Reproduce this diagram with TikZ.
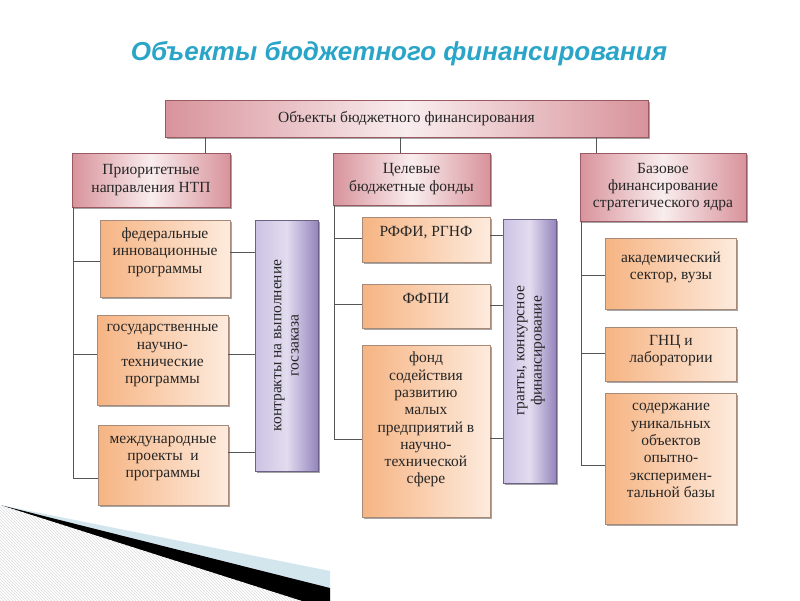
\documentclass[tikz,border=0pt]{standalone}
\usepackage{fontspec}
\setmainfont{Liberation Serif}
\newfontfamily\titlefont{Liberation Sans}
\usetikzlibrary{shadows,patterns,calc}
\definecolor{titlecol}{HTML}{2AA5C8}
\definecolor{pinkedge}{HTML}{D8939B}
\definecolor{pinkmid}{HTML}{F9EDEE}
\definecolor{pinkdraw}{HTML}{9A5A62}
\definecolor{orgdark}{HTML}{F6B483}
\definecolor{orglight}{HTML}{FDEBDD}
\definecolor{orgdraw}{HTML}{A98A78}
\definecolor{purpleft}{HTML}{CBC2E3}
\definecolor{purpmid}{HTML}{E2DCEF}
\definecolor{purpright}{HTML}{9485BD}
\definecolor{purpdraw}{HTML}{6C6288}
\definecolor{linecol}{HTML}{555555}
\definecolor{txt}{HTML}{262626}
\definecolor{wedgeblue}{HTML}{D3E6EE}
\tikzset{
  box/.style={inner sep=0pt, align=center, text=txt, font=\fontsize{15.5}{17.3}\selectfont,
     drop shadow={shadow xshift=1.5pt, shadow yshift=-1.5pt, opacity=0.5, fill=black!70}},
  pinkbox/.style={box, draw=pinkdraw, line width=0.5pt, left color=pinkedge, right color=pinkedge, middle color=pinkmid},
  orgbox/.style={box, draw=orgdraw, line width=0.5pt, left color=orgdark, right color=orglight, text depth=16pt},
  purpbox/.style={box, draw=purpdraw, line width=0.5pt, left color=purpleft, right color=purpright, middle color=purpmid},
  conn/.style={draw=linecol, line width=0.7pt},
}
\begin{document}
\begin{tikzpicture}[x=1pt,y=-1pt]
\useasboundingbox (0,0) rectangle (800,600);
% bottom-left page curl decoration
\begin{scope}
\clip (0,0) rectangle (800,600);
\fill[wedgeblue] (0,505) -- (330,571) -- (330,620) -- cycle;
\fill[black] (0,505) -- (330,588) -- (330,620) -- cycle;
\fill[white] (0,505) -- (330,610) -- (0,610) -- cycle;
\fill[pattern=north west lines, pattern color=black!14] (0,505) -- (330,610) -- (0,610) -- cycle;
\end{scope}
% title
\node (title) at (399,54) {\titlefont\bfseries\itshape\fontsize{26}{29}\selectfont\color{titlecol}Объекты бюджетного финансирования};
% top box
\node[pinkbox, minimum width=483pt, minimum height=37pt] (top) at (406.5,118.5) {Объекты бюджетного финансирования};
% level 2
\node[pinkbox, minimum width=158pt, minimum height=54pt] (A) at (151,180) {Приоритетные\\направления НТП};
\node[pinkbox, minimum width=157pt, minimum height=52pt] (B) at (411.5,179) {Целевые\\бюджетные фонды};
\node[pinkbox, minimum width=166pt, minimum height=68pt] (C) at (663,187) {Базовое\\финансирование\\стратегического ядра};
% left column
\node[orgbox, minimum width=130pt, minimum height=77pt] (L1) at (165,258.5) {федеральные\\инновационные\\программы};
\node[orgbox, minimum width=131pt, minimum height=90pt, text depth=12pt] (L2) at (162.5,360) {государственные\\научно-\\технические\\программы};
\node[orgbox, minimum width=130pt, minimum height=80pt] (L3) at (163,465) {международные\\проекты\ \ и\\программы};
\node[purpbox, minimum width=63pt, minimum height=251pt] (LP) at (286.5,345.5) {\rotatebox{90}{\begin{tabular}{@{}c@{}}контракты на выполнение\\госзаказа\end{tabular}}};
% middle column
\node[orgbox, minimum width=128pt, minimum height=45pt] (M1) at (426,239.5) {РФФИ, РГНФ};
\node[orgbox, minimum width=128pt, minimum height=44pt] (M2) at (426,306) {ФФПИ};
\node[orgbox, minimum width=128pt, minimum height=172pt, text depth=26pt] (M3) at (426,431) {фонд\\содействия\\развитию\\малых\\предприятий в\\научно-\\технической\\сфере};
\node[purpbox, minimum width=53pt, minimum height=264pt] (MP) at (529.5,351) {\rotatebox{90}{\begin{tabular}{@{}c@{}}гранты, конкурсное\\финансирование\end{tabular}}};
% right column
\node[orgbox, minimum width=131pt, minimum height=71pt] (R1) at (671,273.5) {академический\\сектор, вузы};
\node[orgbox, minimum width=131pt, minimum height=54pt, text depth=10pt] (R2) at (671,354) {ГНЦ и\\лаборатории};
\node[orgbox, minimum width=131pt, minimum height=131pt] (R3) at (671,458.5) {содержание\\уникальных\\объектов\\опытно-\\эксперимен-\\тальной базы};
% connector coordinates
\coordinate (tA) at (205,0);
\coordinate (tB) at (400,0);
\coordinate (tC) at (596,0);
\coordinate (lv) at (73,0);
\coordinate (mv) at (334,0);
\coordinate (rv) at (581,0);
\coordinate (l1y) at (0,261);
\coordinate (l2y) at (0,354);
\coordinate (l3y) at (0,478);
\coordinate (p1y) at (0,252);
\coordinate (p2y) at (0,354);
\coordinate (p3y) at (0,452);
\coordinate (m1y) at (0,238);
\coordinate (m2y) at (0,304);
\coordinate (m3y) at (0,439);
\coordinate (q1y) at (0,235);
\coordinate (q2y) at (0,305);
\coordinate (q3y) at (0,438);
\coordinate (r1y) at (0,275);
\coordinate (r2y) at (0,353);
\coordinate (r3y) at (0,465);
\draw[conn] (top.south -| tA) -- (A.north -| tA);
\draw[conn] (top.south -| tB) -- (B.north -| tB);
\draw[conn] (top.south -| tC) -- (C.north -| tC);
% left tree
\draw[conn] (A.south -| lv) -- (lv |- l3y);
\draw[conn] (lv |- l1y) -- (L1.west |- l1y);
\draw[conn] (lv |- l2y) -- (L2.west |- l2y);
\draw[conn] (lv |- l3y) -- (L3.west |- l3y);
\draw[conn] (L1.east |- p1y) -- (LP.west |- p1y);
\draw[conn] (L2.east |- p2y) -- (LP.west |- p2y);
\draw[conn] (L3.east |- p3y) -- (LP.west |- p3y);
% middle tree
\draw[conn] (B.south -| mv) -- (mv |- m3y);
\draw[conn] (mv |- m1y) -- (M1.west |- m1y);
\draw[conn] (mv |- m2y) -- (M2.west |- m2y);
\draw[conn] (mv |- m3y) -- (M3.west |- m3y);
\draw[conn] (M1.east |- q1y) -- (MP.west |- q1y);
\draw[conn] (M2.east |- q2y) -- (MP.west |- q2y);
\draw[conn] (M3.east |- q3y) -- (MP.west |- q3y);
% right tree
\draw[conn] (C.south -| rv) -- (rv |- r3y);
\draw[conn] (rv |- r1y) -- (R1.west |- r1y);
\draw[conn] (rv |- r2y) -- (R2.west |- r2y);
\draw[conn] (rv |- r3y) -- (R3.west |- r3y);
\end{tikzpicture}
\end{document}
